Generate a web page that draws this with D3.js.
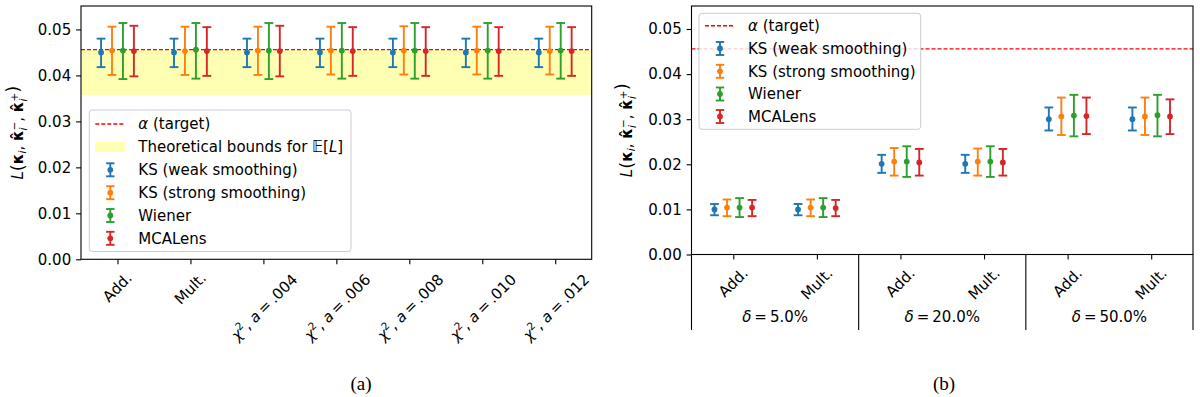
<!DOCTYPE html>
<html>
<head>
<meta charset="utf-8">
<script src="https://cdn.jsdelivr.net/npm/d3@7"></script>
<style>
  body { margin: 0; background: #fff; }
  svg { display: block; font-family: "DejaVu Sans", sans-serif; }
</style>
</head>
<body>
<svg id="fig" width="1200" height="397"></svg>
<script>
// ---- data ----
const methods = ['KS (weak smoothing)', 'KS (strong smoothing)', 'Wiener', 'MCALens'];
const colors = ['#1f77b4', '#ff7f0e', '#2ca02c', '#d62728'];
const offsets = [-0.225, -0.075, 0.075, 0.225];
const yTicks = [0, 0.01, 0.02, 0.03, 0.04, 0.05];
const alphaTarget = 0.0456;
const boundsLow = 0.0357;
const boundsHigh = 0.0456;

// (a) noise models: [mean, lower, upper]
const leftCats = ['Add.', 'Mult.', '.004', '.006', '.008', '.010', '.012'];
const leftKSWeak = [
  [0.0450, 0.0418, 0.0480], [0.0450, 0.0418, 0.0480], [0.0450, 0.0418, 0.0480], [0.0450, 0.0418, 0.0480],
  [0.0450, 0.0418, 0.0480], [0.0450, 0.0418, 0.0480], [0.0450, 0.0418, 0.0480]];
const leftKSStrong = [
  [0.0454, 0.0401, 0.0506], [0.0453, 0.0401, 0.0506], [0.0454, 0.0401, 0.0506], [0.0454, 0.0402, 0.0506],
  [0.0454, 0.0402, 0.0507], [0.0454, 0.0402, 0.0506], [0.0453, 0.0402, 0.0506]];
const leftWiener = [
  [0.0454, 0.0392, 0.0514], [0.0456, 0.0393, 0.0514], [0.0454, 0.0392, 0.0514], [0.0454, 0.0393, 0.0514],
  [0.0454, 0.0393, 0.0514], [0.0454, 0.0393, 0.0514], [0.0454, 0.0393, 0.0514]];
const leftMCALens = [
  [0.0453, 0.0398, 0.0508], [0.0453, 0.0399, 0.0505], [0.0453, 0.0398, 0.0508], [0.0453, 0.0399, 0.0505],
  [0.0453, 0.0399, 0.0505], [0.0453, 0.0399, 0.0505], [0.0453, 0.0399, 0.0505]];

// (b) missing-data fraction
const rightCats = ['Add.', 'Mult.', 'Add.', 'Mult.', 'Add.', 'Mult.'];
const rightGroups = ['5.0%', '20.0%', '50.0%'];
const rightKSWeak = [
  [0.0100, 0.0087, 0.0112], [0.0100, 0.0087, 0.0112], [0.0201, 0.0181, 0.0221],
  [0.0201, 0.0181, 0.0221], [0.0300, 0.0275, 0.0326], [0.0300, 0.0275, 0.0326]];
const rightKSStrong = [
  [0.0104, 0.0085, 0.0122], [0.0104, 0.0085, 0.0122], [0.0206, 0.0175, 0.0236],
  [0.0206, 0.0175, 0.0235], [0.0306, 0.0265, 0.0348], [0.0306, 0.0265, 0.0348]];
const rightWiener = [
  [0.0104, 0.0083, 0.0125], [0.0104, 0.0083, 0.0125], [0.0206, 0.0172, 0.0240],
  [0.0206, 0.0172, 0.0240], [0.0308, 0.0262, 0.0354], [0.0309, 0.0262, 0.0354]];
const rightMCALens = [
  [0.0104, 0.0085, 0.0121], [0.0103, 0.0085, 0.0121], [0.0204, 0.0175, 0.0234],
  [0.0204, 0.0175, 0.0234], [0.0307, 0.0267, 0.0348], [0.0306, 0.0267, 0.0344]];

const svg = d3.select('#fig');
const FS = 15;
const tickLen = 4.9, tickPad = 4.9;

// rotate a text element by -45deg and centre its box under a tick
function placeRotated(t, cx, top) {
  const b = t.node().getBBox();
  const side = (b.width + b.height) / Math.SQRT2;
  const cy = top + side / 2;
  t.attr('transform', `translate(${cx},${cy}) rotate(-45) translate(${-(b.x + b.width / 2)},${-(b.y + b.height / 2)})`);
}

function yLabel(g, x, y) {
  const t = g.append('text')
    .attr('transform', `translate(${x},${y}) rotate(-90)`)
    .attr('text-anchor', 'middle')
    .attr('font-size', FS);
  const sub = 10.5;
  t.append('tspan').attr('font-style', 'italic').text('L');
  t.append('tspan').attr('font-size', 18).attr('dy', 1).text('(');
  t.append('tspan').attr('font-weight', 'bold').attr('dy', -1).text('κ');
  t.append('tspan').attr('font-style', 'italic').attr('font-size', sub).attr('dy', 3).text('i');
  t.append('tspan').attr('dy', -3).text(', ');
  ['−', '+'].forEach((s, k) => {
    t.append('tspan').attr('font-weight', 'bold').text('κ\u0302');
    t.append('tspan').attr('font-style', 'italic').attr('font-size', sub).attr('dy', 3.5).text('i');
    t.append('tspan').attr('font-size', sub).attr('dx', -3).attr('dy', -9).text(s);
    t.append('tspan').attr('dy', 5.5).text(k === 0 ? ', ' : '');
  });
  t.append('tspan').attr('font-size', 18).attr('dy', 1).text(')');
}

function errorbarGlyph(g, cx, cy, lo, hi, color, cap, r) {
  g.append('line').attr('x1', cx).attr('x2', cx).attr('y1', lo).attr('y2', hi)
    .attr('stroke', color).attr('stroke-width', 1.9);
  [lo, hi].forEach(v => g.append('line')
    .attr('x1', cx - cap).attr('x2', cx + cap).attr('y1', v).attr('y2', v)
    .attr('stroke', color).attr('stroke-width', 1.9));
  g.append('circle').attr('cx', cx).attr('cy', cy).attr('r', r).attr('fill', color);
}

function legend(g, box, rows, withBand) {
  g.append('rect')
    .attr('x', box.x).attr('y', box.y).attr('width', box.w).attr('height', box.h)
    .attr('rx', 3).attr('fill', '#fff').attr('fill-opacity', 0.8)
    .attr('stroke', '#cccccc').attr('stroke-width', 1);
  const hx = box.x + 6, hw = 30, tx = box.x + 49;
  let i = 0;
  // alpha line
  let ry = rows[i++];
  g.append('line').attr('x1', hx).attr('x2', hx + hw).attr('y1', ry).attr('y2', ry)
    .attr('stroke', '#ff0000').attr('stroke-width', 1.4).attr('stroke-dasharray', '4,2');
  const a = g.append('text').attr('x', tx).attr('y', ry).attr('dy', '0.35em').attr('font-size', FS);
  a.append('tspan').attr('font-style', 'italic').text('α');
  a.append('tspan').text(' (target)');
  if (withBand) {
    ry = rows[i++];
    g.append('rect').attr('x', hx).attr('y', ry - 5).attr('width', hw).attr('height', 10).attr('fill', '#ffffb3');
    const b = g.append('text').attr('x', tx).attr('y', ry).attr('dy', '0.35em').attr('font-size', FS);
    b.append('tspan').text('Theoretical bounds for ');
    b.append('tspan').text('𝔼[');
    b.append('tspan').attr('font-style', 'italic').text('L');
    b.append('tspan').text(']');
  }
  methods.forEach((m, k) => {
    ry = rows[i++];
    errorbarGlyph(g, hx + hw / 2, ry, ry - 6.5, ry + 6.5, colors[k], 4.2, 2.9);
    g.append('text').attr('x', tx).attr('y', ry).attr('dy', '0.35em').attr('font-size', FS).text(m);
  });
}

function drawPanel(p) {
  const g = svg.append('g');
  const x = d3.scaleLinear().domain(p.xDomain).range(p.xRange);
  const y = d3.scaleLinear().domain([0, 0.0551]).range(p.yRange);
  const [x0, x1] = p.xRange, [yb, yt] = p.yRange;

  if (p.band) {
    g.append('rect').attr('x', x0).attr('width', x1 - x0)
      .attr('y', y(boundsHigh)).attr('height', y(boundsLow) - y(boundsHigh))
      .attr('fill', '#ffffb3');
  }
  g.append('line').attr('x1', x0).attr('x2', x1).attr('y1', y(alphaTarget)).attr('y2', y(alphaTarget))
    .attr('stroke', '#ff0000').attr('stroke-width', 1.4).attr('stroke-dasharray', '4,2');

  p.series.forEach((s, k) => {
    s.forEach((d, i) => {
      errorbarGlyph(g, x(i + offsets[k]), y(d[0]), y(d[1]), y(d[2]), colors[k], 4.4, 2.9);
    });
  });

  // axes
  const ya = g.append('g').attr('transform', `translate(${x0},0)`)
    .call(d3.axisLeft(y).tickValues(yTicks).tickFormat(d3.format('.2f'))
      .tickSize(tickLen).tickPadding(tickPad).tickSizeOuter(0));
  const xa = g.append('g').attr('transform', `translate(0,${yb})`)
    .call(d3.axisBottom(x).tickValues(d3.range(p.cats.length)).tickFormat('')
      .tickSize(tickLen).tickSizeOuter(0));
  [ya, xa].forEach(a => {
    a.select('.domain').remove();
    a.selectAll('line').attr('stroke', '#000').attr('stroke-width', 1.1);
    a.selectAll('text').attr('font-size', FS).attr('font-family', 'DejaVu Sans').attr('fill', '#000');
  });
  g.append('rect').attr('x', x0).attr('y', yt).attr('width', x1 - x0).attr('height', yb - yt)
    .attr('fill', 'none').attr('stroke', '#000').attr('stroke-width', 1.1);

  // x tick labels
  p.cats.forEach((c, i) => {
    const t = g.append('text').attr('font-size', FS);
    if (c.startsWith('.')) {
      t.append('tspan').attr('font-style', 'italic').text('χ');
      t.append('tspan').attr('font-size', 10.5).attr('dy', -6).text('2');
      t.append('tspan').attr('dy', 6).text(', ');
      t.append('tspan').attr('font-style', 'italic').text('a');
      t.append('tspan').text('\u2009=\u2009' + c);
    } else {
      t.text(c);
    }
    placeRotated(t, x(i), yb + tickLen + tickPad);
  });

  if (p.groups) {
    d3.range(-0.5, p.cats.length, 2).forEach(v => {
      g.append('line').attr('x1', x(v)).attr('x2', x(v)).attr('y1', yb).attr('y2', p.groupBottom)
        .attr('stroke', '#000').attr('stroke-width', 1.1);
    });
    p.groups.forEach((gr, j) => {
      const t = g.append('text').attr('x', x(2 * j + 0.5)).attr('y', p.groupY)
        .attr('dy', '0.35em').attr('text-anchor', 'middle').attr('font-size', FS);
      t.append('tspan').attr('font-style', 'italic').text('δ');
      t.append('tspan').text('\u2009=\u2009' + gr);
    });
  }

  yLabel(g, p.yLabelX, (yb + yt) / 2);
  legend(g, p.legendBox, p.legendRows, !!p.band);

  svg.append('text').attr('x', p.caption[0]).attr('y', p.caption[1])
    .attr('text-anchor', 'middle').attr('font-family', '"Liberation Serif", "Times New Roman", serif')
    .attr('font-size', 19).text(p.caption[2]);
}

drawPanel({
  cats: leftCats,
  series: [leftKSWeak, leftKSStrong, leftWiener, leftMCALens],
  xDomain: [-0.5, 6.5], xRange: [81, 591.7], yRange: [259.3, 6],
  band: true,
  legendBox: { x: 89.3, y: 110, w: 261.7, h: 141.5 },
  legendRows: [124, 146.8, 169.8, 192.7, 215.5, 238.3],
  yLabelX: 23,
  caption: [361, 390, '(a)']
});

drawPanel({
  cats: rightCats,
  series: [rightKSWeak, rightKSStrong, rightWiener, rightMCALens],
  xDomain: [-0.5, 5.5], xRange: [691.5, 1193], yRange: [254.5, 6],
  groups: rightGroups, groupY: 316.5, groupBottom: 330,
  legendBox: { x: 699, y: 13.3, w: 221.7, h: 116 },
  legendRows: [25.7, 48.5, 71.3, 94, 116.5],
  yLabelX: 632,
  caption: [944, 390, '(b)']
});
</script>
</body>
</html>
